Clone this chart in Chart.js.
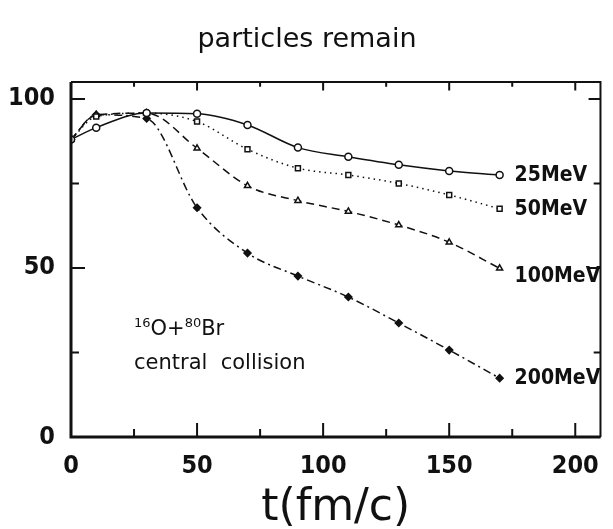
<!DOCTYPE html>
<html>
<head>
<meta charset="utf-8">
<script src="https://cdn.jsdelivr.net/npm/chart.js@4.4.0/dist/chart.umd.min.js"></script>
<style>
html, body { margin: 0; padding: 0; background: #fff; }
#wrap { width: 613px; height: 529px; }
</style>
</head>
<body>
<div id="wrap"><canvas id="graficoParticulas"></canvas></div>
<script>
// dados
const tempos = [0, 10, 30, 50, 70, 90, 110, 130, 150, 170];
const rotulos = ['25MeV', '50MeV', '100MeV', '200MeV'];
const valores25 = [88, 91.5, 95.8, 95.6, 92.3, 85.6, 82.9, 80.5, 78.7, 77.5];
const valores50 = [88, 94.8, 95.8, 93.3, 85.1, 79.5, 77.5, 75.0, 71.6, 67.5];
const valores100 = [88, 95.3, 95.8, 85.4, 74.3, 69.9, 66.7, 62.7, 57.6, 49.9];
const valores200 = [88, 95.3, 94.2, 67.8, 54.4, 47.6, 41.4, 33.7, 25.7, 17.4];
const ticksX = [0, 50, 100, 150, 200];
const ticksY = [0, 50, 100];
const ticksMenoresX = [25, 75, 125, 175];
const ticksMenoresY = [25, 75];

const FONTE = "'DejaVu Sans Condensed', 'DejaVu Sans', sans-serif";
const FONTE_LARGA = "'DejaVu Sans', sans-serif";

function pontos(valores) {
    return tempos.map((t, i) => ({ x: t, y: valores[i] }));
}

function serie(label, valores, estilo, tracejado, cheio) {
    return {
        label: label,
        data: pontos(valores),
        borderColor: '#111',
        borderWidth: 1.5,
        borderDash: tracejado,
        pointStyle: estilo,
        pointRadius: 3.5,
        pointBorderWidth: 1.5,
        pointBorderColor: '#111',
        pointBackgroundColor: cheio ? '#111' : '#fff',
        cubicInterpolationMode: 'monotone',
        fill: false
    };
}

// moldura, ticks internos e textos
const molduraPlugin = {
    id: 'moldura',
    afterDraw(chart) {
        const { ctx, chartArea: a, scales } = chart;
        const sx = scales.x, sy = scales.y;
        ctx.save();
        ctx.strokeStyle = '#111';
        ctx.lineCap = 'butt';

        ctx.lineWidth = 3;
        ctx.beginPath();
        ctx.moveTo(a.left, a.top);
        ctx.lineTo(a.left, a.bottom);
        ctx.lineTo(a.right, a.bottom);
        ctx.stroke();
        ctx.lineWidth = 2;
        ctx.beginPath();
        ctx.moveTo(a.left, a.top);
        ctx.lineTo(a.right, a.top);
        ctx.lineTo(a.right, a.bottom);
        ctx.stroke();

        ctx.lineWidth = 2;
        const tickX = (v, len) => {
            const px = sx.getPixelForValue(v);
            ctx.beginPath();
            ctx.moveTo(px, a.bottom); ctx.lineTo(px, a.bottom - len);
            ctx.moveTo(px, a.top); ctx.lineTo(px, a.top + len * 0.6);
            ctx.stroke();
        };
        const tickY = (v, len) => {
            const py = sy.getPixelForValue(v);
            ctx.beginPath();
            ctx.moveTo(a.left, py); ctx.lineTo(a.left + len, py);
            ctx.moveTo(a.right, py); ctx.lineTo(a.right - len * 0.85, py);
            ctx.stroke();
        };
        ticksX.forEach(v => tickX(v, 14));
        ticksMenoresX.forEach(v => tickX(v, 8));
        ticksY.forEach(v => tickY(v, 14));
        ticksMenoresY.forEach(v => tickY(v, 8));

        // titulo
        ctx.fillStyle = '#111';
        ctx.textAlign = 'center';
        ctx.textBaseline = 'middle';
        ctx.font = '27px ' + FONTE_LARGA;
        ctx.fillText('particles remain', 307, 40);

        // rotulos das curvas
        ctx.textAlign = 'left';
        ctx.font = 'bold 21px ' + FONTE;
        const desloc = [1, 1, 8, 0];
        chart.data.datasets.forEach((ds, i) => {
            const ult = ds.data[ds.data.length - 1];
            const px = sx.getPixelForValue(ult.x) + 15;
            const py = sy.getPixelForValue(ult.y) + desloc[i];
            ctx.fillText(rotulos[i], px, py);
        });

        // anotacao
        ctx.textBaseline = 'alphabetic';
        let x = 134;
        const base = 335;
        const partes = [['16', 13, -8], ['O+', 21, 0], ['80', 13, -8], ['Br', 21, 0]];
        partes.forEach(([txt, tam, dy]) => {
            ctx.font = tam + 'px ' + FONTE_LARGA;
            ctx.fillText(txt, x, base + dy);
            x += ctx.measureText(txt).width;
        });
        ctx.font = '21px ' + FONTE_LARGA;
        ctx.fillText('central  collision', 134, 369);
        ctx.restore();
    }
};

const ctx = document.getElementById('graficoParticulas').getContext('2d');
const grafico = new Chart(ctx, {
    type: 'line',
    data: {
        datasets: [
            serie('25MeV', valores25, 'circle', [], false),
            serie('50MeV', valores50, 'rect', [1.5, 4], false),
            serie('100MeV', valores100, 'triangle', [8, 5], false),
            serie('200MeV', valores200, 'rectRot', [8, 4, 2, 4], true)
        ]
    },
    options: {
        responsive: true,
        maintainAspectRatio: false,
        animation: false,
        layout: { padding: { top: 82, right: 2, left: 0, bottom: 0 } },
        plugins: {
            legend: { display: false },
            tooltip: { enabled: false }
        },
        scales: {
            x: {
                type: 'linear',
                min: 0,
                max: 210,
                afterBuildTicks: scale => { scale.ticks = ticksX.map(v => ({ value: v })); },
                afterFit: scale => { scale.height = 92; },
                grid: { display: false, drawTicks: false },
                border: { display: false },
                ticks: {
                    color: '#111',
                    padding: 14,
                    maxRotation: 0,
                    font: { family: FONTE, size: 25, weight: 'bold' }
                },
                title: {
                    display: true,
                    text: 't(fm/c)',
                    color: '#111',
                    padding: { top: 0, bottom: -6 },
                    font: { family: FONTE_LARGA, size: 44 }
                }
            },
            y: {
                min: 0,
                max: 105,
                afterBuildTicks: scale => { scale.ticks = ticksY.map(v => ({ value: v })); },
                afterFit: scale => { scale.width = 71; },
                grid: { display: false, drawTicks: false },
                border: { display: false },
                ticks: {
                    color: '#111',
                    padding: 16,
                    font: { family: FONTE, size: 25, weight: 'bold' }
                }
            }
        }
    },
    plugins: [molduraPlugin]
});
</script>
</body>
</html>
